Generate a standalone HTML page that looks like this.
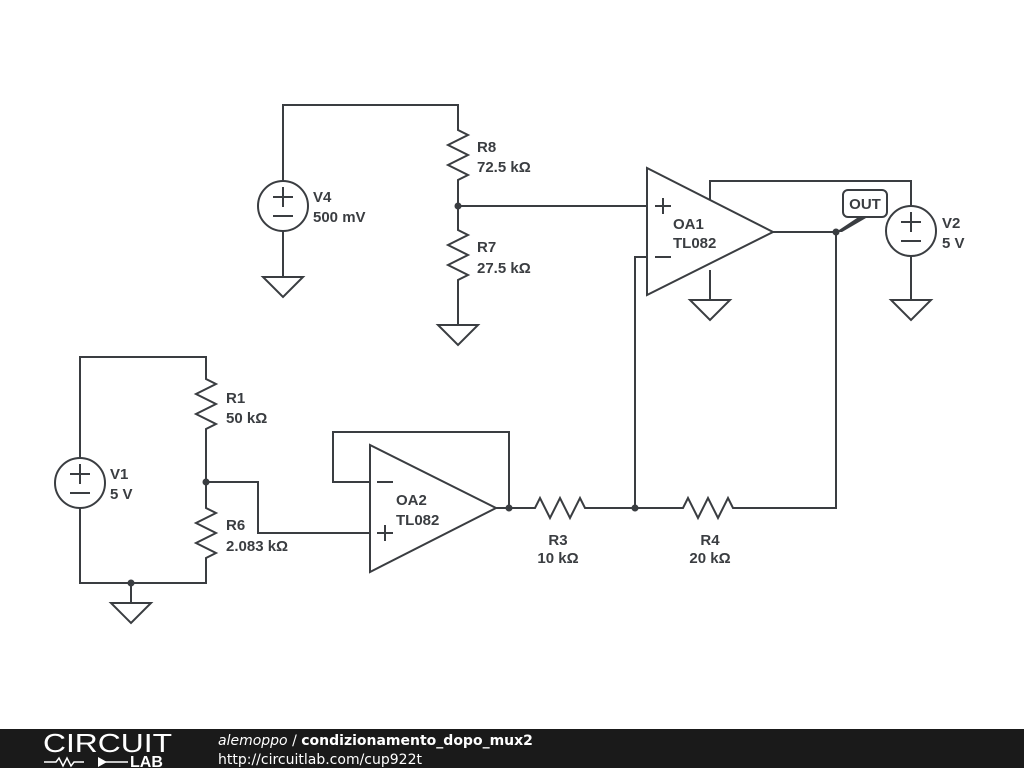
<!DOCTYPE html>
<html><head><meta charset="utf-8"><style>
body{margin:0;width:1024px;height:768px;background:#fff;overflow:hidden}
svg{position:absolute;left:0;top:0}
text{font-family:"Liberation Sans",sans-serif;font-weight:bold;font-size:15px;fill:#3a3d41}
</style></head><body>
<svg width="1024" height="768" viewBox="0 0 1024 768">
<g stroke="#3a3d41" stroke-width="2" fill="none" stroke-linejoin="miter">
<circle cx="283" cy="206" r="25" fill="#fff"/>
<path d="M283 181V105H458V125"/>
<path d="M458 125l0 5l10 5l-20 10l20 10l-20 10l20 10l-10 5v20"/>
<path d="M458 185V227"/>
<path d="M458 227l0 3l10 5l-20 10l20 10l-20 10l20 10l-10 5v12"/>
<path d="M458 280V325"/>
<path d="M438 325h40l-20 20z"/>
<path d="M283 231V277"/>
<path d="M263 277h40l-20 20z"/>
<path d="M647 168V295L773 232Z"/>
<path d="M458 206H647"/>
<path d="M773 232H836"/>
<path d="M710 200V181H911V206"/>
<circle cx="911" cy="231" r="25" fill="#fff"/>
<path d="M911 256V300"/>
<path d="M891 300h40l-20 20z"/>
<path d="M710 270V300"/>
<path d="M690 300h40l-20 20z"/>
<path d="M647 257H635V508"/>
<path d="M836 232V508H738"/>
<path d="M738 508l-5 0l-5 -10l-10 20l-10 -20l-10 20l-10 -20l-5 10h-5"/>
<path d="M683 508H635"/>
<path d="M370 445V572L496 508Z"/>
<path d="M496 508H530"/>
<path d="M530 508l5 0l5 -10l10 20l10 -20l10 20l10 -20l5 10h2"/>
<path d="M587 508H635"/>
<path d="M509 508V432H333V482H370"/>
<circle cx="80" cy="483" r="25" fill="#fff"/>
<path d="M80 458V357H206V375"/>
<path d="M206 375l0 4l10 5l-20 10l20 10l-20 10l20 10l-10 5v2"/>
<path d="M206 431V505"/>
<path d="M206 505l0 3l10 5l-20 10l20 10l-20 10l20 10l-10 5v2"/>
<path d="M206 558V583H80V508"/>
<path d="M131 583V603"/>
<path d="M111 603h40l-20 20z"/>
<path d="M206 482H258V533H370"/>
<path d="M273 197h20M283 187v20M273 216h20"/>
<path d="M901 222h20M911 212v20M901 241h20"/>
<path d="M70 474h20M80 464v20M70 493h20"/>
<path d="M655 206h16M663 198v16M655 257h16"/>
<path d="M377 482h16M377 533h16M385 525v16"/>
</g>
<g fill="#3a3d41">
<circle cx="458" cy="206" r="3.5"/>
<circle cx="836" cy="232" r="3.5"/>
<circle cx="635" cy="508" r="3.5"/>
<circle cx="509" cy="508" r="3.5"/>
<circle cx="206" cy="482" r="3.5"/>
<circle cx="131" cy="583" r="3.5"/>
<path d="M836 232L860 216L866 218L842 232Z"/>
</g>
<rect x="843" y="190" width="44" height="27" rx="5" fill="#fff" stroke="#3a3d41" stroke-width="2"/>
<text x="865" y="209" text-anchor="middle">OUT</text>
<text x="477" y="152">R8</text><text x="477" y="172">72.5 kΩ</text>
<text x="477" y="252">R7</text><text x="477" y="273">27.5 kΩ</text>
<text x="313" y="202">V4</text><text x="313" y="222">500 mV</text>
<text x="673" y="229">OA1</text><text x="673" y="248">TL082</text>
<text x="942" y="228">V2</text><text x="942" y="248">5 V</text>
<text x="396" y="505">OA2</text><text x="396" y="525">TL082</text>
<text x="226" y="403">R1</text><text x="226" y="423">50 kΩ</text>
<text x="226" y="530">R6</text><text x="226" y="551">2.083 kΩ</text>
<text x="110" y="479">V1</text><text x="110" y="499">5 V</text>
<text x="558" y="545" text-anchor="middle">R3</text><text x="558" y="563" text-anchor="middle">10 kΩ</text>
<text x="710" y="545" text-anchor="middle">R4</text><text x="710" y="563" text-anchor="middle">20 kΩ</text>
<rect x="0" y="729" width="1024" height="39" fill="#1a1a1a"/>
<text x="43" y="752" textLength="129" lengthAdjust="spacingAndGlyphs" style="font-weight:normal;font-size:26px;fill:#fff">CIRCUIT</text>
<g stroke="#fff" stroke-width="1.5" fill="none"><path d="M44 762h12l3-4 4 8 4-8 4 8 3-4h10M98 762h30"/></g>
<path d="M98 757v10l9-5z" fill="#fff"/>
<text x="130" y="767" style="font-size:16px;fill:#fff">LAB</text>
<text x="218" y="745" style="font-family:'DejaVu Sans',sans-serif;font-weight:normal;font-size:14px;fill:#fff"><tspan font-style="italic">alemoppo</tspan> / <tspan font-weight="bold">condizionamento_dopo_mux2</tspan></text>
<text x="218" y="764" style="font-family:'DejaVu Sans',sans-serif;font-weight:normal;font-size:14px;fill:#fff">http://circuitlab.com/cup922t</text>
</svg>
</body></html>
